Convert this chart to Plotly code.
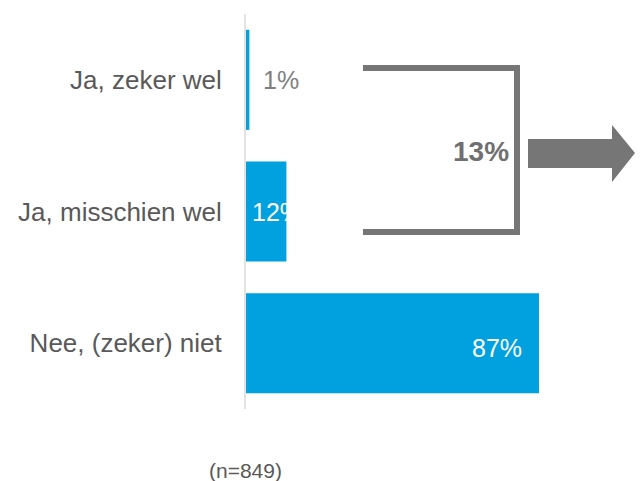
import plotly.graph_objects as go

categories = ["Ja, zeker wel", "Ja, misschien wel", "Nee, (zeker) niet"]
values = [1, 12, 87]
value_labels = ["1%", "12%", "87%"]
bracket_label = "13%"
note = "(n=849)"

OFF = 8  # page body margin of the browser
W, H = 644 - OFF, 481 - OFF
PL, PT, PB = 246, 14, 409  # plot area edges in page pixels
ML, MR, MT = PL - OFF, 0, PT - OFF
MB = H - (PB - OFF)
PW, PH = W - ML - MR, H - MT - MB
SCALE = 293 / 87.0  # px per percent

def xp(px):
    return (px - PL) / PW

def yp(py):
    return 1 - (py - PT) / PH

BLUE = "#00A1DE"
GRAY = "#767676"
FONT = "Arial, Liberation Sans, sans-serif"

fig = go.Figure(go.Bar(
    x=values, y=categories, orientation="h",
    marker=dict(color=BLUE, line=dict(width=0)),
    width=0.76, hoverinfo="skip",
))

annotations = [
    dict(x=values[0], y=categories[0], xref="x", yref="y", text=value_labels[0],
         xanchor="left", yanchor="middle", xshift=12, yshift=0, showarrow=False,
         font=dict(family=FONT, size=25, color="#7f7f7f")),
    dict(x=0, y=categories[1], xref="x", yref="y", text=value_labels[1],
         xanchor="left", yanchor="middle", xshift=4, showarrow=False,
         font=dict(family=FONT, size=25, color="#ffffff")),
    dict(x=values[2], y=categories[2], xref="x", yref="y", text=value_labels[2],
         xanchor="right", yanchor="middle", xshift=-15, yshift=-5, showarrow=False,
         font=dict(family=FONT, size=25, color="#ffffff")),
    dict(x=xp(511), y=yp(151), xref="paper", yref="paper", text="<b>%s</b>" % bracket_label,
         xanchor="right", yanchor="middle", showarrow=False,
         font=dict(family=FONT, size=28, color="#6f6f6f")),
    dict(x=xp(245), y=yp(470), xref="paper", yref="paper", text=note,
         xanchor="center", yanchor="middle", showarrow=False,
         font=dict(family=FONT, size=21, color="#595959")),
]

def path(points, close=False):
    s = "M " + " L ".join("%f,%f" % (xp(a), yp(b)) for a, b in points)
    return s + (" Z" if close else "")

shapes = [
    dict(type="path", xref="paper", yref="paper",
         path=path([(363, 68), (517, 68), (517, 232), (363, 232)]),
         line=dict(color=GRAY, width=6), fillcolor="rgba(0,0,0,0)"),
    dict(type="path", xref="paper", yref="paper",
         path=path([(528, 139), (612, 139), (612, 125), (635, 153), (612, 182), (612, 168), (528, 168)], close=True),
         line=dict(width=0), fillcolor=GRAY),
]

fig.update_layout(
    width=W, height=H,
    margin=dict(l=ML, r=MR, t=MT, b=MB, pad=0),
    paper_bgcolor="white", plot_bgcolor="white",
    showlegend=False,
    xaxis=dict(range=[0, PW / SCALE], visible=False, fixedrange=True),
    yaxis=dict(autorange=False, range=[2.5, -0.5], showgrid=False, zeroline=False,
               showline=True, linecolor="#e3e3e3", linewidth=2, ticks="",
               ticklabelstandoff=17,
               tickfont=dict(family=FONT, size=26, color="#595959")),
    annotations=annotations, shapes=shapes,
)

fig.write_html("out.html")
